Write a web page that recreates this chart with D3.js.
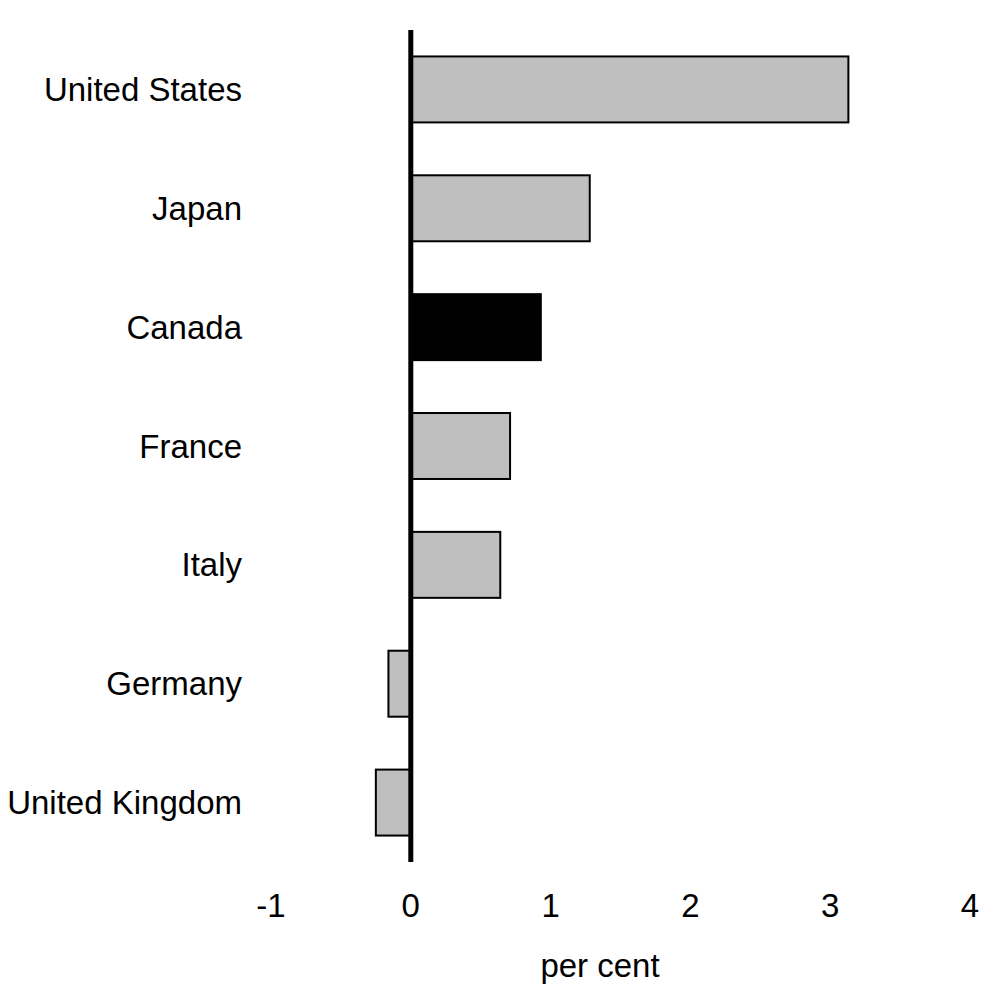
<!DOCTYPE html>
<html><head><meta charset="utf-8">
<script src="https://cdn.jsdelivr.net/npm/d3@7"></script>
<style>body{margin:0;background:#fff}svg{display:block}text{font-family:Arial,"Liberation Sans",sans-serif;fill:#000}</style>
</head><body>
<svg id="c" width="1004" height="1004"></svg>
<script>
const categories = ["United States","Japan","Canada","France","Italy","Germany","United Kingdom"];
const values = [3.13, 1.28, 0.93, 0.71, 0.64, -0.16, -0.25];
const highlight = ["Canada"];
const xTicks = [-1,0,1,2,3,4];
const xTitle = "per cent";

const svg = d3.select("#c");
const x = d3.scaleLinear().domain([-1,4]).range([271,970]);
const y = d3.scaleBand().domain(categories).range([30,862]).paddingInner(0.445).paddingOuter(0.2225);

svg.append("g").selectAll("rect").data(categories).join("rect")
  .attr("x", (d,i)=>x(Math.min(0,values[i])))
  .attr("y", d=>y(d))
  .attr("width", (d,i)=>Math.abs(x(values[i])-x(0)))
  .attr("height", y.bandwidth())
  .attr("fill", d=>highlight.includes(d)?"#000":"#bfbfbf")
  .attr("stroke","#000").attr("stroke-width",2);

svg.append("line").attr("x1",x(0)).attr("x2",x(0)).attr("y1",30).attr("y2",862)
  .attr("stroke","#000").attr("stroke-width",5);

svg.append("g").selectAll("text").data(categories).join("text")
  .attr("x",242).attr("y",d=>y(d)+y.bandwidth()/2).attr("dy","0.35em")
  .attr("text-anchor","end").style("font-size","33px").text(d=>d);

svg.append("g").selectAll("text").data(xTicks).join("text")
  .attr("x",d=>x(d)).attr("y",905).attr("dy","0.35em")
  .attr("text-anchor","middle").style("font-size","33px").text(d=>d);

svg.append("text").attr("x",600).attr("y",965).attr("dy","0.35em")
  .attr("text-anchor","middle").style("font-size","33px").text(xTitle);
</script>
</body></html>
